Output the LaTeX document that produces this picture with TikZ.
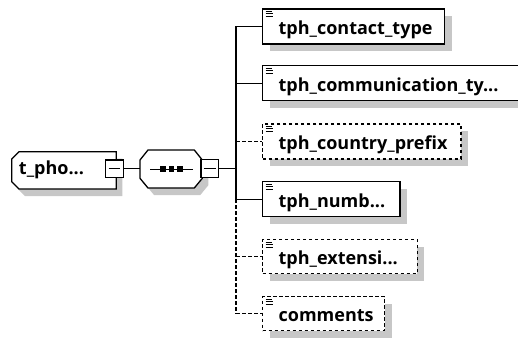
\documentclass[tikz,border=0pt]{standalone}
\usepackage{fontspec}
\setmainfont{Open Sans}
\usetikzlibrary{shadows}
\begin{document}
\begin{tikzpicture}[x=1pt,y=-1pt,line width=1.3pt,
  shadowc/.style={fill=black!22,draw=none},
  elembox/.style={draw=black,fill=white,inner sep=0pt,anchor=north west,minimum height=35pt,
    drop shadow={shadow xshift=7pt,shadow yshift=-7pt,fill=black!22,opacity=1}},
  optbox/.style={elembox,dash pattern=on 3.5pt off 2.5pt},
  lbl/.style={font=\fontsize{18}{21}\selectfont\bfseries,text=black,inner sep=0pt,anchor=base west},
  minusbox/.style={draw=black,fill=white,minimum width=17.5pt,minimum height=17.5pt,inner sep=0pt},
  optline/.style={dash pattern=on 3.5pt off 2.5pt}]
\useasboundingbox (0,0) rectangle (518,337);
% --- root type element t_pho...
\node[inner sep=0pt,anchor=north west,minimum width=103.3pt,minimum height=36pt] (tp) at (11.7,151.7) {};
\fill[shadowc] ([shift={(6,7)}]tp.north west) ++(0,7.3) -- ++(7.3,-7.3) -- ([shift={(6,7)}]tp.north east)
  -- ([shift={(6,7)}]tp.south east) -- ([shift={(13.3,7)}]tp.south west) -- ++(-7.3,-7.3) -- cycle;
\draw[fill=white] ([shift={(0,7.3)}]tp.north west) -- ([shift={(7.3,0)}]tp.north west) -- (tp.north east)
  -- (tp.south east) -- ([shift={(7.3,0)}]tp.south west) -- ([shift={(0,-7.3)}]tp.south west) -- cycle;
\node[lbl] (tpt) at (18.3,174) {t\_pho...};
\node[minusbox] (tpm) at (114.5,168.8) {};
\draw (tpm.west) ++(3.5,0) -- ([xshift=-3.5pt]tpm.east);
% --- sequence compositor
\node[inner sep=0pt,anchor=north west,minimum width=61pt,minimum height=36.7pt] (seq) at (140,150) {};
\fill[shadowc] ([shift={(6,7)}]seq.north west) ++(0,10) -- ++(8,-10) -- ([shift={(-2,7)}]seq.north east)
  -- ([shift={(6,17)}]seq.north east) -- ([shift={(6,-2.7)}]seq.south east) -- ([shift={(-2,7)}]seq.south east)
  -- ([shift={(14,7)}]seq.south west) -- ([shift={(6,-2.7)}]seq.south west) -- cycle;
\draw[fill=white] ([shift={(0,10)}]seq.north west) -- ([shift={(8,0)}]seq.north west) -- ([shift={(-8,0)}]seq.north east)
  -- ([shift={(0,10)}]seq.north east) -- ([shift={(0,-9.7)}]seq.south east) -- ([shift={(-8,0)}]seq.south east)
  -- ([shift={(8,0)}]seq.south west) -- ([shift={(0,-9.7)}]seq.south west) -- cycle;
\draw ([xshift=10pt]seq.west) ++(0,0.7) -- ([xshift=-9pt,yshift=-0.7pt]seq.east);
\fill (162.8,169) +(-2.8,-2.8) rectangle +(2.8,2.8);
\fill (171.3,169) +(-2.8,-2.8) rectangle +(2.8,2.8);
\fill (179.8,169) +(-2.8,-2.8) rectangle +(2.8,2.8);
\node[minusbox] (sqm) at (209.7,168.5) {};
\draw (sqm.west) ++(3.5,0) -- ([xshift=-3.5pt]sqm.east);
% --- child elements
\node[elembox,minimum width=182pt] (ct) at (262,8.3) {};
\node[elembox,minimum width=255.7pt] (cm) at (262,65) {};
\node[optbox,minimum width=198.4pt] (cp) at (262,123.3) {};
\node[elembox,minimum width=137.3pt] (nb) at (262,181) {};
\node[optbox,minimum width=154.7pt,minimum height=34pt] (ex) at (262,239) {};
\node[optbox,minimum width=122pt,minimum height=34pt] (co) at (262,296) {};
\foreach \b in {ct,cm,cp,nb,ex,co}{
  \draw[line width=1pt] ([shift={(3.5,3)}]\b.north west) -- ++(6,0);
  \draw[line width=1pt] ([shift={(3.5,5.5)}]\b.north west) -- ++(7,0);
  \draw[line width=1pt] ([shift={(3.5,8)}]\b.north west) -- ++(7,0);
}
\node[lbl] (ctt) at ([shift={(16,-10)}]ct.south west) {tph\_contact\_type};
\node[lbl] (cmt) at ([shift={(16,-10)}]cm.south west) {tph\_communication\_ty...};
\node[lbl] (cpt) at ([shift={(16,-10)}]cp.south west) {tph\_country\_prefix};
\node[lbl] (nbt) at ([shift={(16,-10)}]nb.south west) {tph\_numb...};
\node[lbl] (ext) at ([shift={(16,-9.5)}]ex.south west) {tph\_extensi...};
\node[lbl] (cot) at ([shift={(16,-9.5)}]co.south west) {comments};
% --- connectors
\coordinate (jx) at (236,169);
\draw (tpm.east) -- (tpm.east -| seq.west);
\draw (sqm.east) -- (sqm.east -| jx);
\draw (ct.west -| jx) -- (nb.west -| jx);
\draw[optline] (nb.west -| jx) -- (co.west -| jx);
\draw (ct.west -| jx) -- (ct.west);
\draw (cm.west -| jx) -- (cm.west);
\draw[optline] (cp.west -| jx) -- (cp.west);
\draw (nb.west -| jx) -- (nb.west);
\draw[optline] (ex.west -| jx) -- (ex.west);
\draw[optline] (co.west -| jx) -- (co.west);
\end{tikzpicture}
\end{document}
